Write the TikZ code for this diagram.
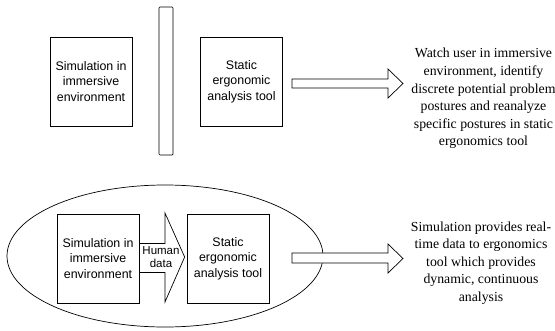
\documentclass[tikz,border=0pt]{standalone}
\usepackage{fontspec}
\setmainfont{Liberation Serif}
\newfontfamily\boxfont{Liberation Sans}
\usetikzlibrary{calc,shapes.geometric}

\tikzset{
  blockbox/.style={draw, line width=0.7pt, minimum width=82pt, minimum height=89pt,
    inner sep=0pt, align=center, font=\boxfont\fontsize{12.4}{15.5}\selectfont},
  notetext/.style={align=center, inner sep=0pt, font=\fontsize{13.8}{17.6}\selectfont},
  blockarrow/.style={draw, line width=0.7pt, fill=white, line join=miter}
}

\begin{document}
\begin{tikzpicture}[x=1pt,y=-1pt]
	\useasboundingbox (0,0) rectangle (555,330);
	% upper row: separate tools
	\node[blockbox] (simtop) at (91,81.5) {Simulation in\\immersive\\environment};
	\node[draw, line width=0.7pt, rounded corners=1pt, minimum width=14pt, minimum height=148pt, inner sep=0pt] (wall) at (166,81) {};
	\node[blockbox] (ergtop) at (241.5,81.5) {Static\\ergonomic\\analysis tool};
	\draw[blockarrow] (292,79) -- (388,79) -- (388,69) -- (403,83.5) -- (388,98) -- (388,88) -- (292,88) -- cycle;
	\node[notetext] (toptext) at (483.5,98.5) {Watch user in immersive\\environment, identify\\discrete potential problem\\postures and reanalyze\\specific postures in static\\ergonomics tool};
	
	% lower row: coupled tools
	\node[draw, ellipse, line width=0.7pt, minimum width=316pt, minimum height=142pt, inner sep=0pt] (loop) at (165,256) {};
	\node[blockbox] (simbot) at (98,258.5) {Simulation in\\immersive\\environment};
	\node[blockbox] (ergbot) at (228,258.5) {Static\\ergonomic\\analysis tool};
	\draw[blockarrow, fill=none] ($(simbot.east)+(0,-15)$) -- (165,243.5) -- (165,213) -- ($(ergbot.west)+(-2,-1.5)$) -- (165,302) -- (165,272.5) -- ($(simbot.east)+(0,14)$);
	\node[align=center, inner sep=0pt, font=\boxfont\fontsize{11.5}{13}\selectfont] (humandata) at (161,257.5) {Human\\data};
	\draw[blockarrow] (292,253) -- (388,253) -- (388,244) -- (403,258.5) -- (388,273) -- (388,263) -- (292,263) -- cycle;
	\node[notetext] (bottext) at (481,263) {Simulation provides real-\\time data to ergonomics\\tool which provides\\dynamic, continuous\\analysis};
\end{tikzpicture}
\end{document}
